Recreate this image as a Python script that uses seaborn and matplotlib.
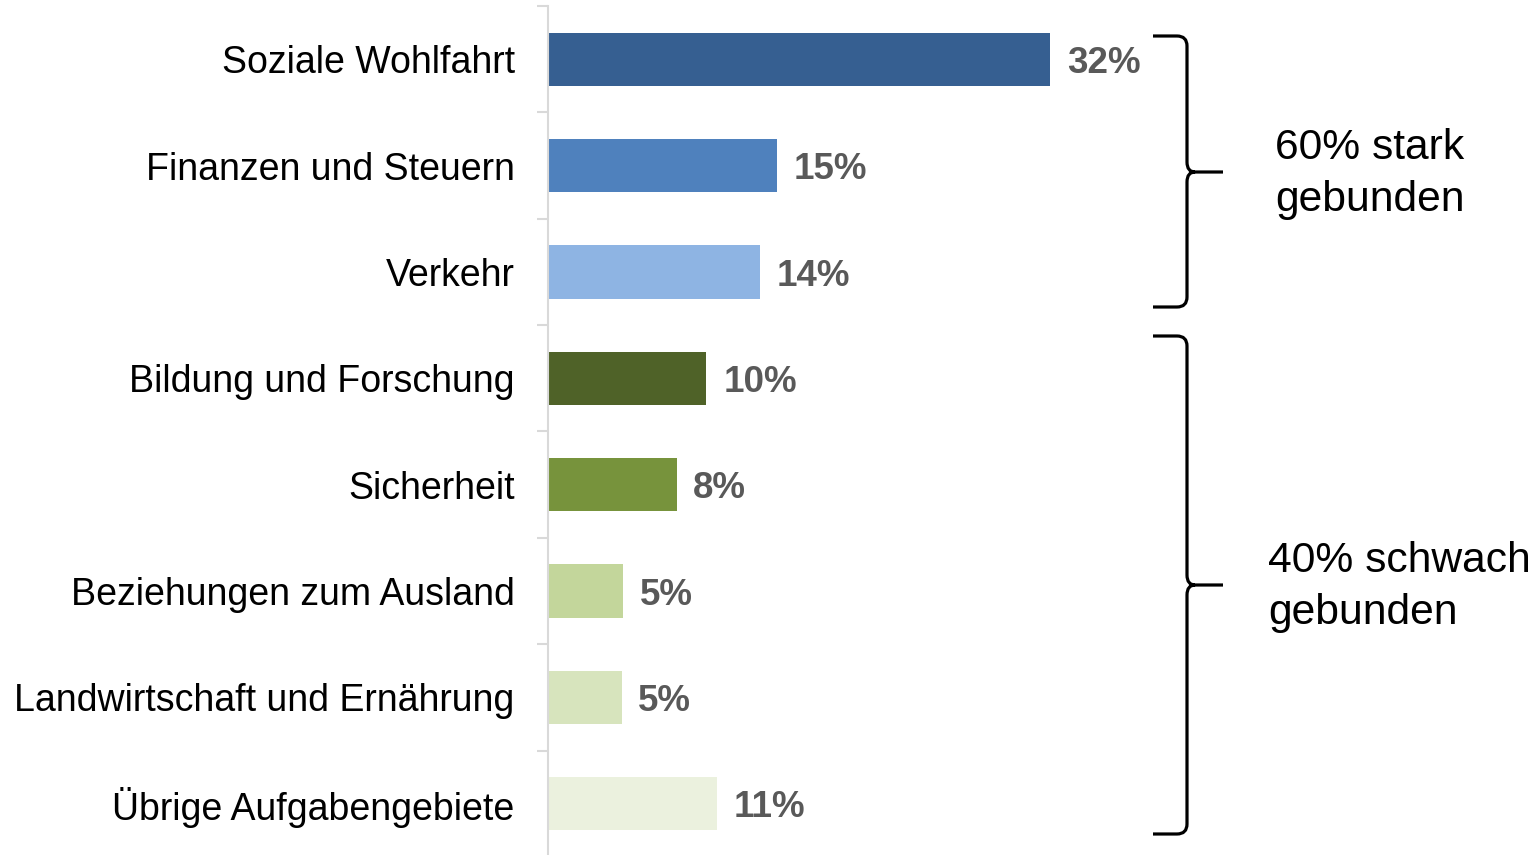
import numpy as np
import pandas as pd
import matplotlib
matplotlib.use("Agg")
import matplotlib.pyplot as plt
from matplotlib.path import Path
from matplotlib.patches import PathPatch
import seaborn as sns

# ---- data ----
categories = [
    "Soziale Wohlfahrt",
    "Finanzen und Steuern",
    "Verkehr",
    "Bildung und Forschung",
    "Sicherheit",
    "Beziehungen zum Ausland",
    "Landwirtschaft und Ernährung",
    "Übrige Aufgabengebiete",
]
shares = [32.0, 14.6, 13.5, 10.1, 8.2, 4.8, 4.7, 10.8]
share_labels = ["32%", "15%", "14%", "10%", "8%", "5%", "5%", "11%"]
bar_colors = ["#365F91", "#4F81BD", "#8EB4E3", "#4F6228",
              "#77933C", "#C3D69B", "#D7E4BD", "#EBF1DE"]
group_labels = ["60% stark\ngebunden", "40% schwach\ngebunden"]

df = pd.DataFrame({"Aufgabengebiet": categories, "Anteil": shares})

sns.set_theme(style="white")
plt.rcParams["font.family"] = ["Liberation Sans", "DejaVu Sans"]

W, H = 1536, 855
fig = plt.figure(figsize=(W / 100, H / 100), dpi=100)
px_per_pct = 15.69
ax = fig.add_axes([548 / W, -2 / H, 40 * px_per_pct / W, 851 / H])

sns.barplot(data=df, x="Anteil", y="Aufgabengebiet", hue="Aufgabengebiet",
            palette=bar_colors, width=0.5, legend=False, orient="h",
            saturation=1, ax=ax, linewidth=0)

ax.set_xlim(0, 40)
ax.set_ylim(7.5, -0.5)
ax.set_xlabel("")
ax.set_ylabel("")
ax.set_xticks([])
for s in ["top", "right", "bottom"]:
    ax.spines[s].set_visible(False)
ax.spines["left"].set_color("#D9D9D9")
ax.spines["left"].set_linewidth(1.5)

ax.set_yticks(range(len(categories)))
ax.set_yticklabels(categories)
ax.set_yticks(np.arange(-0.5, len(categories) + 0.5, 1), minor=True)
ax.tick_params(axis="y", which="major", length=0, pad=24, labelsize=27,
               labelcolor="black")
ax.tick_params(axis="y", which="minor", length=8, width=1.5, color="#D9D9D9",
               left=True)

for cont, lab in zip(ax.containers, share_labels):
    for p in cont.patches:
        ax.annotate(lab, (p.get_x() + p.get_width(), p.get_y() + p.get_height() / 2),
                    xytext=(12, -3), textcoords="offset points",
                    ha="left", va="center", fontsize=26.5,
                    fontweight="bold", color="#595959", annotation_clip=False)


def brace(x0, xm, xt, ytop, ytip, ybot, r=10):
    def f(x, y):
        return (x / W, 1 - y / H)
    verts = [f(x0, ytop), f(xm - r, ytop), f(xm, ytop), f(xm, ytop + r),
             f(xm, ytip - r), f(xm, ytip), f(xm + r * 0.8, ytip), f(xt, ytip),
             f(xm + r * 0.8, ytip), f(xm, ytip), f(xm, ytip + r),
             f(xm, ybot - r), f(xm, ybot), f(xm - r, ybot), f(x0, ybot)]
    codes = [Path.MOVETO, Path.LINETO, Path.CURVE3, Path.CURVE3,
             Path.LINETO, Path.CURVE3, Path.CURVE3, Path.LINETO,
             Path.MOVETO, Path.CURVE3, Path.CURVE3,
             Path.LINETO, Path.CURVE3, Path.CURVE3, Path.LINETO]
    patch = PathPatch(Path(verts, codes), transform=fig.transFigure,
                      fill=False, edgecolor="black", linewidth=2.3,
                      capstyle="butt", joinstyle="round")
    fig.add_artist(patch)


brace(1153, 1187, 1223, 36, 172, 307)
brace(1153, 1187, 1223, 336, 585, 834)

fig.text(1275 / W, 1 - 174 / H, group_labels[0], ha="left", va="center",
         fontsize=30.7, linespacing=1.38, color="black")
fig.text(1268 / W, 1 - 587 / H, group_labels[1], ha="left", va="center",
         fontsize=30.7, linespacing=1.38, color="black")

fig.savefig("out.png", dpi=100)
